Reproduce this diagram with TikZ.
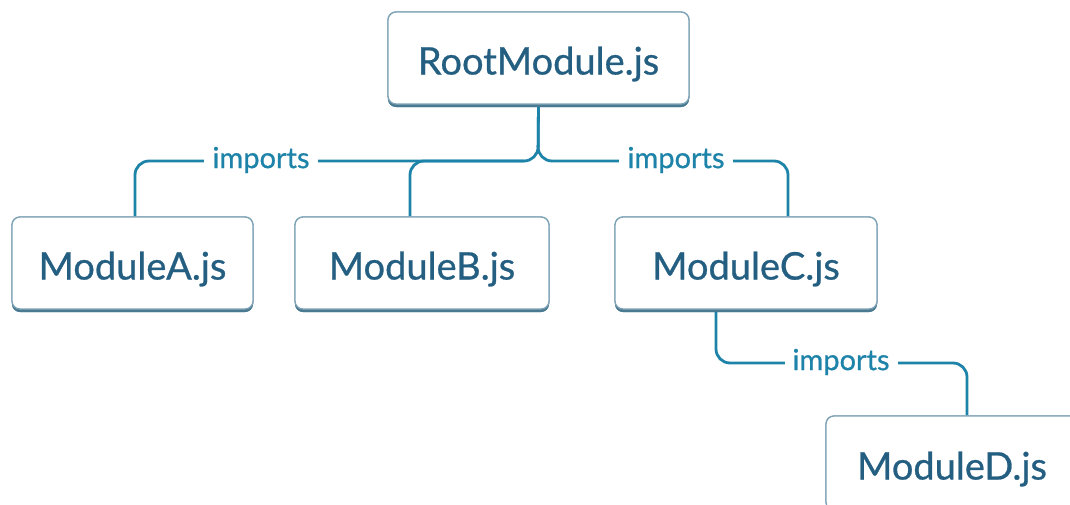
\documentclass[tikz,border=0pt]{standalone}
\usepackage{fontspec}
\setmainfont{Lato}
\newfontfamily\medfont{Lato}[FakeBold=0.7]
\usetikzlibrary{shadows}
\definecolor{txt}{HTML}{245F82}
\definecolor{conn}{HTML}{1E83A8}
\definecolor{edge}{HTML}{7FA3B6}
\definecolor{shade}{HTML}{4A7A92}
\newcommand{\boxtxt}[1]{\raisebox{-6pt}[\height][\depth]{#1}}
\tikzset{
  modbox/.style={draw=edge, line width=1.3pt, fill=white, rounded corners=8pt,
    text=txt, font=\medfont\fontsize{38}{44}\selectfont, inner sep=0pt,
    drop shadow={shadow xshift=0pt, shadow yshift=-3pt, fill=shade, opacity=1}},
  link/.style={draw=conn, line width=2.8pt, rounded corners=14pt},
  lbl/.style={fill=white, text=conn, font=\medfont\fontsize{29}{34}\selectfont, inner xsep=8pt, inner ysep=2pt}
}
\begin{document}
\begin{tikzpicture}[x=1pt,y=-1pt]
\useasboundingbox (0,0) rectangle (1070,504);
\coordinate (j) at (538,161);
\coordinate (jl) at (524,161);
\node[modbox, minimum width=301pt, minimum height=92pt] (root) at (538.5,58) {\boxtxt{RootModule.js}};
\node[modbox, minimum width=241pt, minimum height=92pt] (A) at (132.5,263) {\boxtxt{ModuleA.js}};
\node[modbox, minimum width=254pt, minimum height=92pt] (B) at (422,263) {\boxtxt{ModuleB.js}};
\node[modbox, minimum width=262pt, minimum height=92pt] (C) at (746,263) {\boxtxt{ModuleC.js}};
\node[modbox, minimum width=252pt, minimum height=94pt] (D) at (952,463) {\boxtxt{ModuleD.js}};
\path[link] (root.south) -- (j) -- (135,161) -- (A.north -| 135,0);
\path[link] (jl) -- (410,161) -- (B.north -| 410,0);
\path[link] (root.south) -- (j) -- (788,161) -- (C.north -| 788,0);
\path[link] (C.south -| 716,0) -- (716,363) -- (967,363) -- (D.north -| 967,0);
\node[lbl] (i1) at (261,160) {imports};
\node[lbl] (i2) at (676,160) {imports};
\node[lbl] (i3) at (841,362) {imports};
% redraw boxes over line ends
\node[modbox, minimum width=301pt, minimum height=92pt] at (root) {\boxtxt{RootModule.js}};
\node[modbox, minimum width=241pt, minimum height=92pt] at (A) {\boxtxt{ModuleA.js}};
\node[modbox, minimum width=254pt, minimum height=92pt] at (B) {\boxtxt{ModuleB.js}};
\node[modbox, minimum width=262pt, minimum height=92pt] at (C) {\boxtxt{ModuleC.js}};
\node[modbox, minimum width=252pt, minimum height=94pt] at (D) {\boxtxt{ModuleD.js}};
\end{tikzpicture}
\end{document}
